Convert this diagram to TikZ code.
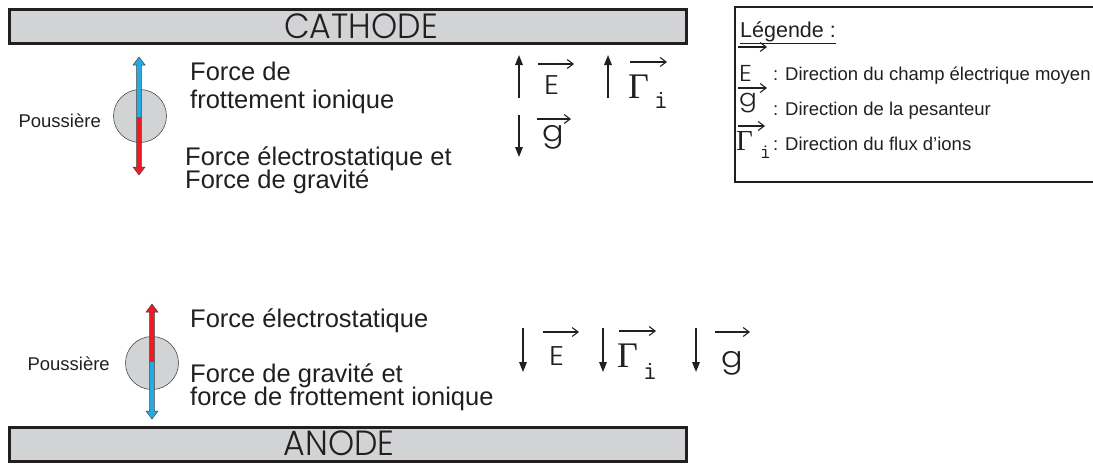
\documentclass[tikz,border=0pt]{standalone}
\usepackage{fontspec}
\setmainfont{Liberation Sans}
\newfontfamily\gothicfont{Poppins Light}[FakeStretch=0.95]
\newfontfamily\letterfont{Poppins Light}[FakeStretch=1.1]
\newfontfamily\greekfont{Liberation Serif}
\usetikzlibrary{calc, arrows.meta}
\definecolor{plategray}{HTML}{D1D3D4}
\definecolor{inkblack}{HTML}{231F20}
\definecolor{forceblue}{HTML}{27AAE1}
\definecolor{forcered}{HTML}{ED1C24}
\tikzset{
  electrode/.style={draw=inkblack, line width=3pt, fill=plategray, minimum width=677pt, minimum height=34pt, inner sep=0pt},
  electrode label/.style={inner sep=0pt, text=inkblack, font=\gothicfont\fontsize{35}{38}\selectfont},
  dust grain/.style={circle, draw=black!70, line width=0.6pt, fill=plategray, minimum size=53pt, inner sep=0pt},
  force outline/.style={draw=inkblack!85, line width=0.5pt},
  force label/.style={anchor=base west, inner sep=0pt, font=\fontsize{25.5}{28}\selectfont, text=inkblack},
  small label/.style={anchor=base west, inner sep=0pt, font=\fontsize{18.5}{20}\selectfont, text=inkblack},
  legend frame/.style={draw=inkblack, line width=1.3pt},
  direction arrow/.style={line width=1.5pt, inkblack, -{Triangle[length=10pt, width=7.5pt]}},
  vec arrow/.style={line width=1.1pt, inkblack, -{Straight Barb[length=6pt, width=9pt]}},
  letter sym/.style={anchor=base west, inner sep=0pt, text=inkblack, font=\letterfont\fontsize{27}{29}\selectfont},
  g sym/.style={anchor=base west, inner sep=0pt, text=inkblack, font=\letterfont\fontsize{29}{32}\selectfont},
  gamma sym/.style={anchor=base west, inner sep=0pt, text=inkblack, font=\greekfont\fontsize{36}{38}\selectfont},
  index sym/.style={anchor=base west, inner sep=0pt, text=inkblack, font=\ttfamily\fontsize{27}{29}\selectfont},
}
% #1 x, #2 start y, #3 length, #4 1 = down / -1 = up, #5 colour
\newcommand{\forceArrow}[5]{
  \begin{scope}[shift={(#1,#2)}, yscale=#4]
    \filldraw[force outline, fill=#5] (-2.3,0) -- (-2.3,#3-8) -- (-6,#3-8) -- (0,#3)
      -- (6,#3-8) -- (2.3,#3-8) -- (2.3,0);
  \end{scope}
}

\begin{document}
\begin{tikzpicture}[x=1pt, y=-1pt]
  \clip (0,0) rectangle (1093,466);
  % electrodes
  \node[electrode] (cathode) at (348,26.5) {};
  \node[electrode label] (cathode label) at ($(cathode.center)+(13,0)$) {CATHODE};
  \node[electrode] (anode) at (348,444.5) {};
  \node[electrode label] (anode label) at ($(anode.center)+(-9,-1.5)$) {ANODE};

  % dust near the cathode
  \node[dust grain] (grain top) at (140,116) {};
  \forceArrow{139}{117}{60}{-1}{forceblue}
  \forceArrow{139}{117}{58}{1}{forcered}
  \node[small label, anchor=base east] (dust top) at (101,127) {Poussière};
  \node[force label] (friction top a) at (190,80) {Force de};
  \node[force label] (friction top b) at (190,108) {frottement ionique};
  \node[force label] (electro top a) at (185,165) {Force électrostatique et};
  \node[force label] (electro top b) at (185,188) {Force de gravité};

  \draw[direction arrow] (519,98) -- (519,55);
  \node[letter sym] (E top) at (544,94) {E};
  \draw[vec arrow] ($(E top.base west)+(-6,-30)$) -- ++(36,0);
  \draw[direction arrow] (608,98) -- (608,55);
  \node[gamma sym] (Gamma top) at (628,98) {Γ};
  \node[index sym] (i top) at (654,108) {i};
  \draw[vec arrow] ($(Gamma top.base west)+(2,-36)$) -- ++(37,0);
  \draw[direction arrow] (519,115) -- (519,157);
  \node[g sym] (g top) at (542,141) {g};
  \draw[vec arrow] ($(g top.base west)+(-5,-22)$) -- ++(34,0);

  % dust near the anode
  \node[dust grain] (grain bottom) at (152,363) {};
  \forceArrow{152}{362}{58}{-1}{forcered}
  \forceArrow{152}{362}{57}{1}{forceblue}
  \node[small label, anchor=base east] (dust bottom) at (110,370) {Poussière};
  \node[force label] (electro bottom) at (190,327) {Force électrostatique};
  \node[force label] (gravity bottom a) at (190,382) {Force de gravité et};
  \node[force label] (gravity bottom b) at (190,405) {force de frottement ionique};

  \draw[direction arrow] (523,328) -- (523,372);
  \node[letter sym] (E bottom) at (549,365) {E};
  \draw[vec arrow] ($(E bottom.base west)+(-6,-33)$) -- ++(36,0);
  \draw[direction arrow] (603,328) -- (603,372);
  \node[gamma sym] (Gamma bottom) at (617,367) {Γ};
  \node[index sym] (i bottom) at (643,379) {i};
  \draw[vec arrow] ($(Gamma bottom.base west)+(2,-36)$) -- ++(37,0);
  \draw[direction arrow] (696,328) -- (696,372);
  \node[g sym] (g bottom) at (721,367) {g};
  \draw[vec arrow] ($(g bottom.base west)+(-6,-35)$) -- ++(35,0);

  % legend
  \draw[legend frame] (735,7) rectangle (1100,182);
  \node[small label, font=\fontsize{21.5}{24}\selectfont] (legend title) at (740,37) {\underline{Légende :}};
  \node[letter sym, font=\letterfont\fontsize{23}{25}\selectfont] (E key) at (739,81) {E};
  \draw[vec arrow] ($(E key.base west)+(-1,-34)$) -- ++(29,0);
  \node[small label] (E text) at (773,80) {: Direction du champ électrique moyen};
  \node[g sym, font=\letterfont\fontsize{24}{26}\selectfont] (g key) at (739,106) {g};
  \draw[vec arrow] ($(g key.base west)+(-1,-18)$) -- ++(29,0);
  \node[small label] (g text) at (773,115) {: Direction de la pesanteur};
  \node[gamma sym, font=\greekfont\fontsize{29}{31}\selectfont] (Gamma key) at (736,150) {Γ};
  \node[index sym, font=\ttfamily\fontsize{21}{23}\selectfont] (i key) at (760,158) {i};
  \draw[vec arrow] ($(Gamma key.base west)+(2,-24)$) -- ++(27,0);
  \node[small label] (Gamma text) at (773,150) {: Direction du flux d’ions};
\end{tikzpicture}
\end{document}
